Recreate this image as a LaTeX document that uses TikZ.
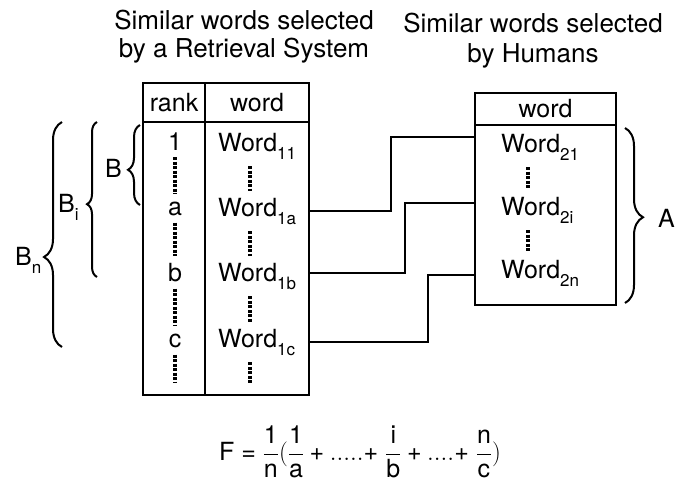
\documentclass[tikz,border=0pt]{standalone}
\usepackage{fontspec}
\setmainfont{TeX Gyre Heros}
\setsansfont{TeX Gyre Heros}
\usetikzlibrary{positioning,decorations.pathreplacing}
\newcommand{\lowidx}[1]{\raisebox{-8pt}{\fontsize{17}{17}\selectfont #1}}
\newcommand{\tplus}{\mathbin{\mbox{+}}}

\begin{document}
\begin{tikzpicture}[x=1pt,y=-1pt,font=\fontsize{25}{29}\selectfont]
	\tikzstyle{cell}=[draw,rectangle,line width=2.6pt,inner sep=0pt,outer sep=0pt]
	\tikzstyle{entry}=[inner sep=5pt]
	\tikzstyle{ellipsis}=[line width=3.2pt,dash pattern=on 3pt off 1.5pt,shorten <=2pt,shorten >=2pt]
	\tikzstyle{link}=[line width=2.6pt]
	\tikzstyle{bracket}=[line width=2pt,decorate,decoration={brace}]

	\useasboundingbox (0,0) rectangle (679,483);

	\node[align=center,anchor=north,inner sep=0pt,font=\fontsize{26}{28}\selectfont](retrieval_title) at (244,10){Similar words selected\\by a Retrieval System};
	\node[align=center,anchor=north,inner sep=0pt,font=\fontsize{26}{30}\selectfont](human_title) at (533,13){Similar words selected\\by Humans};

	% retrieval system table
	\node[cell,anchor=north west,minimum width=62pt,minimum height=39pt](rank_head) at (143,83){rank};
	\node[cell,right=0pt of rank_head,minimum width=104pt,minimum height=39pt](word_head){word};
	\node[cell,below=0pt of rank_head,minimum width=62pt,minimum height=273pt](rank_col){};
	\node[cell,below=0pt of word_head,minimum width=104pt,minimum height=273pt](word_col){};

	\node[entry,anchor=base](rank_1) at (175,150){1};
	\node[entry,anchor=base](rank_a) at (175,215){a};
	\node[entry,anchor=base](rank_b) at (175,281){b};
	\node[entry,anchor=base](rank_c) at (175,347){c};

	\node[entry,anchor=base west](word_11) at (213,151){Word\lowidx{11}};
	\node[entry,anchor=base west](word_1a) at (213,216){Word\lowidx{1a}};
	\node[entry,anchor=base west](word_1b) at (213,281){Word\lowidx{1b}};
	\node[entry,anchor=base west](word_1c) at (213,347){Word\lowidx{1c}};

	% human table
	\node[cell,anchor=north west,minimum width=141pt,minimum height=32pt](human_head) at (475,93){word};
	\node[cell,below=0pt of human_head,minimum width=141pt,minimum height=180pt](human_col){};

	\node[entry,anchor=base west](word_21) at (496,152){Word\lowidx{21}};
	\node[entry,anchor=base west](word_2i) at (496,215){Word\lowidx{2i}};
	\node[entry,anchor=base west](word_2n) at (496,278){Word\lowidx{2n}};

	% braces
	\draw[bracket,decoration={amplitude=18pt,aspect=0.4}] (62,347) -- (62,122);
	\draw[bracket,decoration={amplitude=10pt,aspect=0.47}] (97,277) -- (97,122);
	\draw[bracket,decoration={amplitude=12pt,aspect=0.44}] (140,205) -- (140,125);
	\draw[bracket,decoration={amplitude=18pt,aspect=0.51}] (625,128) -- (625,303);

	\node[anchor=base west,inner sep=0pt](label_bn) at (15,265){B\lowidx{n}};
	\node[anchor=base west,inner sep=0pt](label_bi) at (58,212){B\lowidx{i}};
	\node[anchor=base west,inner sep=0pt](label_b) at (105,177){B};
	\node[anchor=base west,inner sep=0pt](label_a) at (658,227){A};

	\node[anchor=base](formula) at (360,460){$\displaystyle\mathrm{F} \mathrel{\mbox{=}} \frac{\mathrm{1}}{\mathrm{n}}(\frac{\mathrm{1}}{\mathrm{a}} \tplus .....{\mbox{+}}\ \frac{\mathrm{i}}{\mathrm{b}} \tplus ....{\mbox{+}}\ \frac{\mathrm{n}}{\mathrm{c}})$};

	\draw[ellipsis](rank_1) -- (rank_a);
	\draw[ellipsis](rank_a) -- (rank_b);
	\draw[ellipsis](rank_b) -- (rank_c);
	\draw[ellipsis,shorten >=12pt](rank_c.south) -- (rank_c.south |- rank_col.south);

	\draw[ellipsis]([xshift=37pt]word_11.south west) -- ([xshift=37pt]word_1a.north west);
	\draw[ellipsis]([xshift=37pt]word_1a.south west) -- ([xshift=37pt]word_1b.north west);
	\draw[ellipsis]([xshift=37pt]word_1b.south west) -- ([xshift=37pt]word_1c.north west);
	\draw[ellipsis,shorten >=12pt]([xshift=37pt]word_1c.south west) -- ([xshift=37pt]word_1c.south west |- word_col.south);

	\draw[ellipsis]([xshift=32pt]word_21.south west) -- ([xshift=32pt]word_2i.north west);
	\draw[ellipsis]([xshift=32pt]word_2i.south west) -- ([xshift=32pt]word_2n.north west);

	\draw[link](word_1a -| word_col.east) -- ++(82,0) |- ([yshift=10pt]word_21.west -| human_col.west);
	\draw[link]([yshift=3pt]word_1b -| word_col.east) -- ++(96,0) |- ([yshift=7pt]word_2i.west -| human_col.west);
	\draw[link](word_1c -| word_col.east) -- ++(119,0) |- ([yshift=-2pt]word_2n.west -| human_col.west);
\end{tikzpicture}
\end{document}
